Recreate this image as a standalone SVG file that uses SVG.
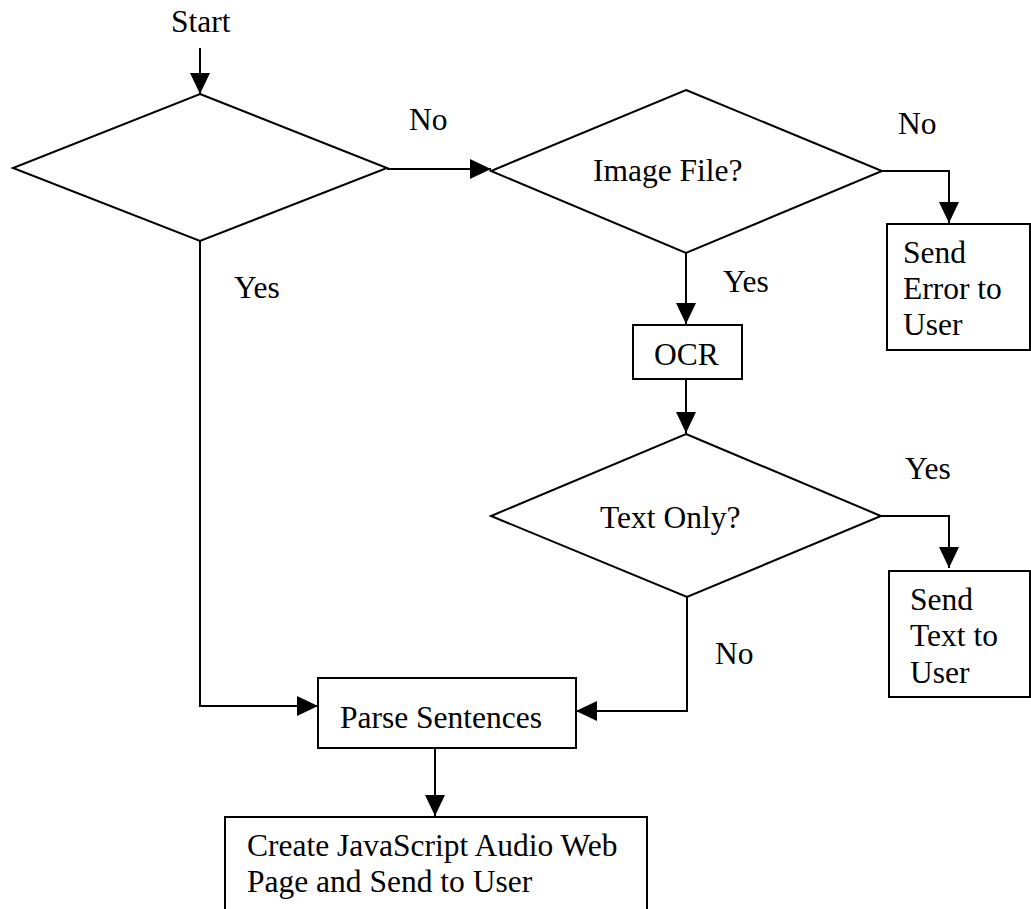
<svg xmlns="http://www.w3.org/2000/svg" width="1031" height="909" viewBox="0 0 1031 909">
<defs>
<marker id="ah" markerUnits="userSpaceOnUse" markerWidth="21" markerHeight="20" refX="21" refY="10" orient="auto">
<path d="M0,0 L21,10 L0,20 Z" fill="#000"/>
</marker>
<style>
.s{fill:#fff;stroke:#000;stroke-width:2}
.c{fill:none;stroke:#000;stroke-width:2;marker-end:url(#ah)}
.t{font-family:"Liberation Serif","Times New Roman",serif;font-size:31.5px;fill:#000}
</style>
</defs>
<rect width="1031" height="909" fill="#fff"/>
<g id="connectors">
<path class="c" d="M200,48 L200,94"/>
<path class="c" d="M387,169 L491,169"/>
<path class="c" d="M882,171 L949,171 L949,223"/>
<path class="c" d="M686,253 L686,324"/>
<path class="c" d="M686,379 L686,433"/>
<path class="c" d="M881,516 L949,516 L949,568"/>
<path class="c" d="M687,597 L687,711 L576,711"/>
<path class="c" d="M200,241 L200,706 L318,706"/>
<path class="c" d="M435,748 L435,816"/>
<text class="t" x="409" y="130">No</text>
<text class="t" x="898" y="134">No</text>
<text class="t" x="234" y="298">Yes</text>
<text class="t" x="723" y="292">Yes</text>
<text class="t" x="905" y="479">Yes</text>
<text class="t" x="715" y="664">No</text>
</g>
<g id="start"><text class="t" x="171" y="32">Start</text></g>
<g id="decision1"><polygon class="s" points="200,94 387,168 200,241 13,168"/></g>
<g id="image-file"><polygon class="s" points="686,90 882,171 686,253 491,171"/>
<text class="t" x="593" y="181">Image File?</text></g>
<g id="send-error"><rect class="s" x="887" y="224" width="143" height="126"/>
<text class="t" x="903" y="263">Send</text>
<text class="t" x="903" y="299">Error to</text>
<text class="t" x="903" y="335">User</text></g>
<g id="ocr"><rect class="s" x="633" y="325" width="109" height="54"/>
<text class="t" x="654" y="365">OCR</text></g>
<g id="text-only"><polygon class="s" points="686,434 881,516 687,597 491,516"/>
<text class="t" x="600" y="528">Text Only?</text></g>
<g id="send-text"><rect class="s" x="889" y="571" width="141" height="126"/>
<text class="t" x="910" y="610">Send</text>
<text class="t" x="910" y="646">Text to</text>
<text class="t" x="910" y="683">User</text></g>
<g id="parse"><rect class="s" x="318" y="678" width="258" height="70"/>
<text class="t" x="340" y="728">Parse Sentences</text></g>
<g id="create"><rect class="s" x="225" y="817" width="422" height="110"/>
<text class="t" x="247" y="856">Create JavaScript Audio Web</text>
<text class="t" x="247" y="892">Page and Send to User</text></g>
</svg>
